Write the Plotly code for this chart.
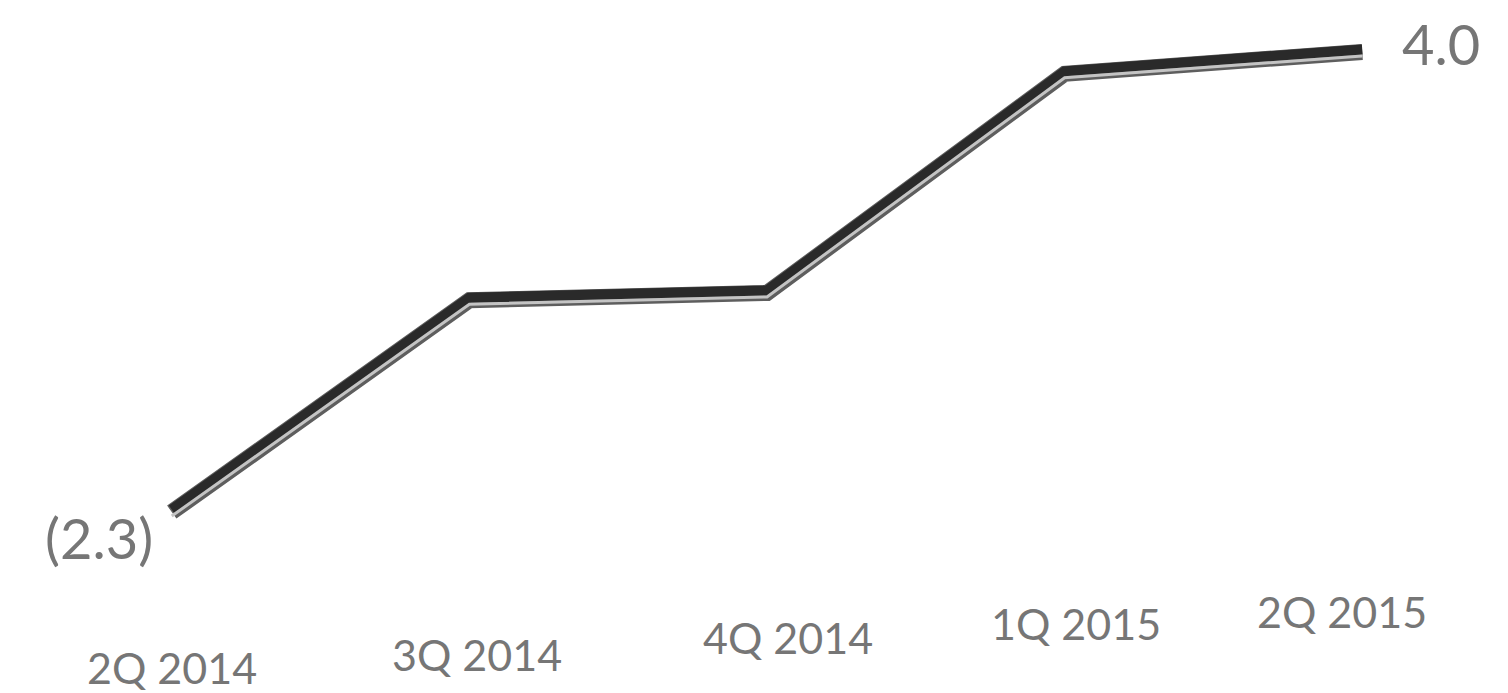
import plotly.graph_objects as go

# Quarterly series
quarters = ["2Q 2014", "3Q 2014", "4Q 2014", "1Q 2015", "2Q 2015"]
values = [-2.3, 0.6, 0.7, 3.7, 4.0]
end_labels = ["(2.3)", "4.0"]

FONT = "Lato, 'Open Sans', sans-serif"
GREY = "#767676"

y_range = [-2.6, 4.3]
px_per_unit = 504 / (y_range[1] - y_range[0])


def shifted(pixels_down):
    d = pixels_down / px_per_unit
    return [y_range[0] + d, y_range[1] + d]


xs = list(range(len(quarters)))

fig = go.Figure()
# body of the ribbon-like line
fig.add_trace(go.Scatter(x=xs, y=values, mode="lines", yaxis="y",
                         line=dict(color="#5e5e5e", width=16), hoverinfo="skip"))
fig.add_trace(go.Scatter(x=xs, y=values, mode="lines", yaxis="y2",
                         line=dict(color="#2a2a2a", width=10), hoverinfo="skip"))
# light highlight along the lower edge
fig.add_trace(go.Scatter(x=xs, y=values, mode="lines", yaxis="y3",
                         line=dict(color="#c4c4c4", width=3), hoverinfo="skip"))

# end-point value labels
fig.add_annotation(x=xs[0], y=values[0], text=end_labels[0], showarrow=False,
                   xanchor="right", yanchor="middle", xshift=-17, yshift=-25,
                   font=dict(family=FONT, size=56, color=GREY))
fig.add_annotation(x=xs[-1], y=values[-1], text=end_labels[1], showarrow=False,
                   xanchor="left", yanchor="middle", xshift=38, yshift=8,
                   font=dict(family=FONT, size=56, color=GREY))

# category labels, stepping upward left to right
label_dx = [0, 8, 21, 11, -20]
label_dy = [-133, -120, -103, -89, -77]
for i, q in enumerate(quarters):
    fig.add_annotation(x=xs[i], y=y_range[0], text=q, showarrow=False,
                       xanchor="center", yanchor="middle",
                       xshift=label_dx[i], yshift=label_dy[i],
                       font=dict(family=FONT, size=43, color=GREY))

axis_off = dict(visible=False, showgrid=False, zeroline=False, fixedrange=True)
fig.update_layout(
    width=1508, height=693,
    margin=dict(l=142, r=116, t=30, b=159),
    paper_bgcolor="white", plot_bgcolor="white",
    showlegend=False,
    xaxis=dict(range=[-0.1, 4.1], **axis_off),
    yaxis=dict(range=y_range, **axis_off),
    yaxis2=dict(range=shifted(-2.5), overlaying="y", **axis_off),
    yaxis3=dict(range=shifted(4), overlaying="y", **axis_off),
)

fig.write_html("out.html")
